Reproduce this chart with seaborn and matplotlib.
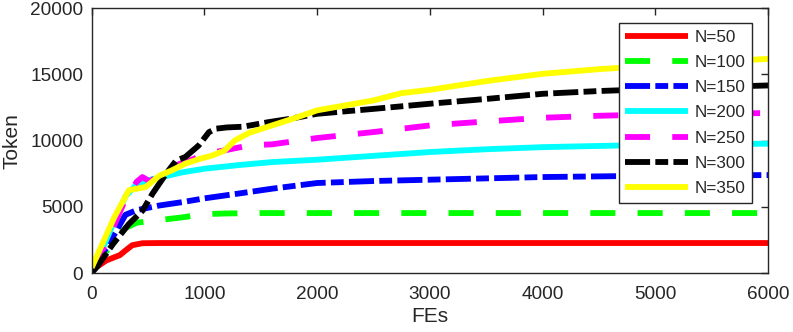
import matplotlib
matplotlib.use("Agg")
import matplotlib.pyplot as plt
import seaborn as sns
import pandas as pd

# ---- data ----
fe_50 = [0, 130, 250, 300, 360, 450, 600, 6000]
tok_50 = [200, 950, 1350, 1700, 2100, 2250, 2265, 2265]

fe_100 = [0, 100, 200, 300, 400, 600, 800, 1000, 1200, 1500, 6000]
tok_100 = [300, 1300, 2400, 3400, 3800, 4000, 4200, 4450, 4500, 4530, 4530]

fe_150 = [0, 100, 200, 300, 400, 600, 800, 1000, 1300, 1600, 2000, 2500,
          3000, 3500, 4000, 4500, 5000, 5500, 6000]
tok_150 = [300, 1500, 2900, 4400, 4750, 5100, 5350, 5640, 6000, 6370, 6800,
           6950, 7050, 7150, 7250, 7300, 7350, 7380, 7400]

fe_200 = [0, 100, 200, 300, 400, 500, 600, 800, 1000, 1300, 1600, 2000, 2500,
          3000, 3500, 4000, 4500, 5000, 5500, 6000]
tok_200 = [400, 1900, 3900, 5800, 6700, 7000, 7200, 7600, 7880, 8150, 8380,
           8560, 8850, 9140, 9350, 9510, 9600, 9690, 9730, 9770]

fe_250 = [0, 100, 200, 300, 400, 450, 520, 600, 700, 800, 900, 1000, 1200,
          1400, 1600, 2000, 2500, 3000, 3500, 4000, 4500, 5000, 5500, 6000]
tok_250 = [350, 1800, 3600, 5600, 6900, 7250, 6900, 7500, 8000, 8300, 8600,
           9000, 9300, 9650, 9720, 10200, 10650, 11150, 11450, 11730, 11880,
           11980, 12050, 12080]

fe_300 = [0, 50, 190, 330, 450, 540, 660, 750, 830, 950, 1040, 1100, 1200,
          1340, 1570, 1760, 2000, 2500, 3000, 3500, 4000, 4500, 5000, 5500, 6000]
tok_300 = [0, 500, 2200, 3700, 4700, 6000, 7500, 8500, 8760, 9640, 10640,
           10900, 11000, 11050, 11400, 11650, 12030, 12400, 12790, 13150,
           13540, 13750, 13900, 14050, 14170]

fe_350 = [0, 100, 200, 330, 480, 600, 710, 830, 950, 1070, 1180, 1270, 1400,
          1600, 1800, 2000, 2500, 2750, 3000, 3500, 4000, 4500, 5000, 5500, 6000]
tok_350 = [400, 2300, 4200, 6250, 6500, 7350, 7750, 8260, 8600, 8880, 9260,
           10020, 10600, 11150, 11700, 12290, 13040, 13590, 13840, 14500,
           15050, 15400, 15680, 15950, 16180]

labels = ["N=50", "N=100", "N=150", "N=200", "N=250", "N=300", "N=350"]
x_ticks = [0, 1000, 2000, 3000, 4000, 5000, 6000]
y_ticks = [0, 5000, 10000, 15000, 20000]

series = [(fe_50, tok_50), (fe_100, tok_100), (fe_150, tok_150),
          (fe_200, tok_200), (fe_250, tok_250), (fe_300, tok_300),
          (fe_350, tok_350)]

# ---- styles ----
colors = ["#ff0000", "#00ff00", "#0000ff", "#00ffff", "#ff00ff", "#000000", "#ffff00"]
dashdot = (0, (4.3, 0.9, 2.2, 0.9))
longdash = (0, (4.3, 3.8))
styles = ["-", longdash, dashdot, "-", longdash, dashdot, "-"]
lw = 4.2

sns.set_theme(style="white")
plt.rcParams['font.family'] = ['Liberation Sans', 'DejaVu Sans']

fig = plt.figure(figsize=(7.93, 3.32), dpi=100)
ax = fig.add_axes([0.1156, 0.1777, 0.8529, 0.7973])

for (fe, tok), lab, col, ls in zip(series, labels, colors, styles):
    df = pd.DataFrame({"FEs": fe, "Token": tok})
    sns.lineplot(data=df, x="FEs", y="Token", ax=ax, color=col, linewidth=lw,
                 label=lab, estimator=None, sort=False)
    line = ax.get_lines()[-1]
    line.set_linestyle(ls)
    line.set_dash_capstyle("butt")
    line.set_solid_capstyle("butt")

ax.set_xlim(0, 6000)
ax.set_ylim(0, 20000)
ax.set_xticks(x_ticks)
ax.set_yticks(y_ticks)
ax.set_xticklabels([str(v) for v in x_ticks])
ax.set_yticklabels([str(v) for v in y_ticks])
ax.tick_params(direction="in", length=5, width=1, top=True, right=True,
               labelsize=13.7, colors="#262626")
ax.tick_params(axis="x", pad=9)
ax.tick_params(axis="y", pad=6)
for s in ax.spines.values():
    s.set_visible(True)
    s.set_color("#262626")
    s.set_linewidth(1)

ax.set_xlabel("FEs", fontsize=15, color="#262626", labelpad=3)
ax.set_ylabel("Token", fontsize=15, color="#262626", labelpad=6)

leg = ax.legend(loc="upper right", bbox_to_anchor=(0.976, 0.944),
                borderaxespad=0, fontsize=12.3, frameon=True, fancybox=False,
                handlelength=3.7, handletextpad=0.35, labelspacing=0.6,
                borderpad=0.38)
leg.get_frame().set_edgecolor("#262626")
leg.get_frame().set_linewidth(1)
leg.get_frame().set_alpha(1)

fig.savefig("out.png", dpi=100)
